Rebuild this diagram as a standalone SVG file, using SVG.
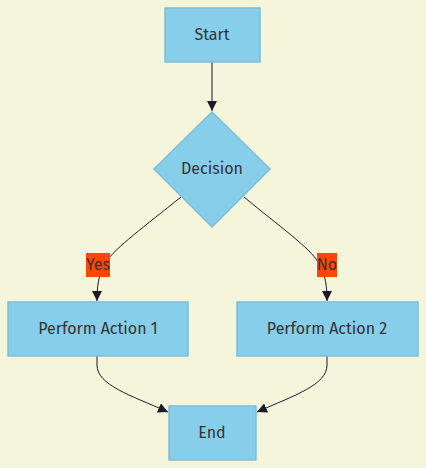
<svg xmlns="http://www.w3.org/2000/svg" width="426" height="468" viewBox="0 0 426 468">
<style>
.node{fill:#87CEEB;stroke:#7fbdd6;stroke-width:1.5}
.lbl{font-family:"Fira Sans","Noto Sans","Open Sans",sans-serif;font-size:16px;fill:#333;text-anchor:middle;dominant-baseline:central}
.edge{fill:none;stroke:#1a1a2e;stroke-width:1}
.elbl{fill:#FF4500}
</style>
<defs>
<marker id="arr" viewBox="0 0 10 10" refX="10" refY="5" markerWidth="10" markerHeight="10" markerUnits="userSpaceOnUse" orient="auto">
<path d="M0,0 L10,5 L0,10 z" fill="#1a1a2e"/>
</marker>
</defs>
<rect width="426" height="468" fill="#f5f5dc"/>
<g id="edges">
<path class="edge" d="M181,197 C145,226 115,248 106,262 C98,274 97,288 97,301" marker-end="url(#arr)"/>
<path class="edge" d="M244,197 C279,226 310,248 318,262 C326,274 327,288 327,301" marker-end="url(#arr)"/>
<path class="edge" d="M212,62 L212,111" marker-end="url(#arr)"/>
<path class="edge" d="M97,356 L97,365 C97,385 130,395 168,412" marker-end="url(#arr)"/>
<path class="edge" d="M327,356 L327,365 C327,385 295,395 257,412" marker-end="url(#arr)"/>
</g>
<g id="label-yes">
<rect class="elbl" x="86" y="253" width="24" height="24"/>
<text class="lbl" x="98" y="264">Yes</text>
</g>
<g id="label-no">
<rect class="elbl" x="317" y="253" width="20" height="24"/>
<text class="lbl" x="327" y="264">No</text>
</g>
<g id="start">
<rect class="node" x="165" y="8" width="95" height="54"/>
<text class="lbl" x="212" y="34">Start</text>
</g>
<g id="decision">
<polygon class="node" points="212,112 270,169 212,227 154,169"/>
<text class="lbl" x="212" y="168">Decision</text>
</g>
<g id="action1">
<rect class="node" x="8" y="302" width="180" height="54"/>
<text class="lbl" x="98" y="328">Perform Action 1</text>
</g>
<g id="action2">
<rect class="node" x="237" y="302" width="181" height="54"/>
<text class="lbl" x="327" y="328">Perform Action 2</text>
</g>
<g id="end">
<rect class="node" x="169" y="406" width="87" height="54"/>
<text class="lbl" x="212" y="432">End</text>
</g>
</svg>
